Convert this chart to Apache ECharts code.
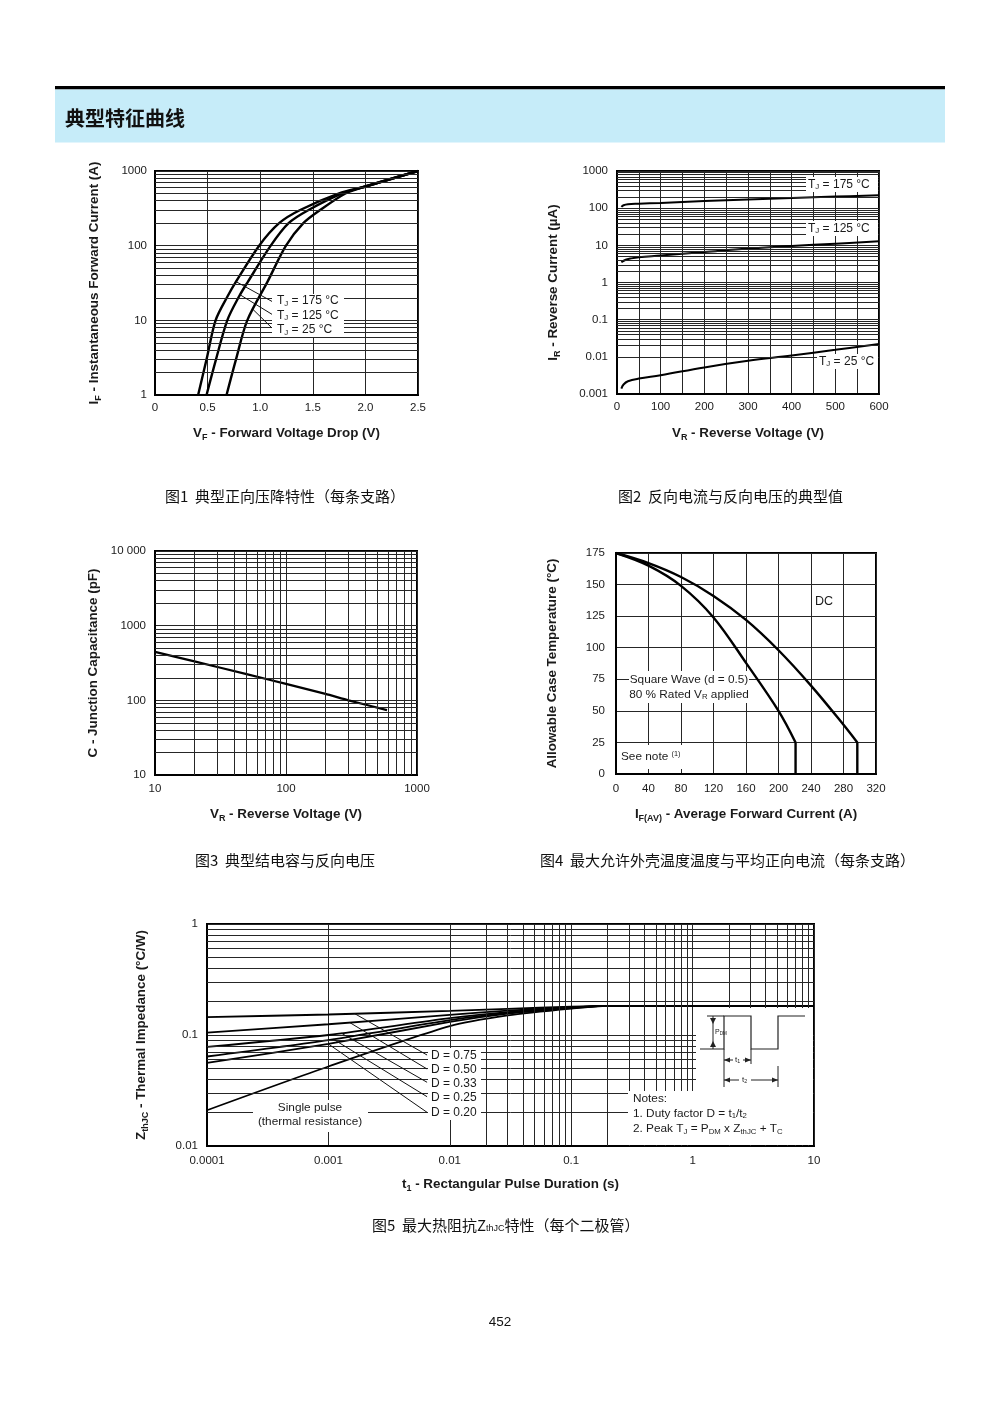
<!DOCTYPE html>
<html><head><meta charset="utf-8">
<script src="https://cdn.jsdelivr.net/npm/echarts@6/dist/echarts.min.js"></script>
<style>html,body{margin:0;padding:0;background:#fff}#c{width:1000px;height:1414px}</style>
</head><body><div id="c"></div>
<script>
// ---------- Fig 1: forward characteristics ----------
const fig1V_175 = [0.41, 0.49, 0.576, 0.69, 0.77, 0.99, 1.18, 1.38, 1.75, 2.0, 2.5];
const fig1I_175 = [1, 3, 10, 21, 33, 100, 200, 300, 500, 620, 1000];
const fig1V_125 = [0.49, 0.58, 0.687, 0.80, 0.884, 1.10, 1.27, 1.46, 1.78, 2.0, 2.5];
const fig1I_125 = [1, 3, 10, 21, 33, 100, 200, 300, 500, 620, 1000];
const fig1V_25  = [0.68, 0.77, 0.877, 1.07, 1.245, 1.41, 1.57, 1.81, 2.0, 2.5];
const fig1I_25  = [1, 3, 10, 33, 100, 200, 300, 500, 620, 1000];
const fig1XTicks = [0, 0.5, 1.0, 1.5, 2.0, 2.5];
// ---------- Fig 2: reverse current ----------
const fig2V_175 = [10, 15, 25, 50, 100, 200, 300, 400, 500, 600];
const fig2I_175 = [108, 120, 128, 132, 138, 155, 172, 188, 205, 222];
const fig2V_125 = [10, 20, 30, 50, 100, 200, 300, 400, 500, 600];
const fig2I_125 = [3.5, 4.1, 4.4, 4.8, 5.3, 6.6, 8.2, 9.6, 11.1, 12.8];
const fig2V_25  = [10, 15, 25, 50, 100, 200, 300, 400, 500, 600];
const fig2I_25  = [0.0014, 0.0018, 0.0022, 0.0026, 0.0032, 0.0052, 0.0078, 0.0108, 0.0154, 0.0223];
// ---------- Fig 3: junction capacitance ----------
const fig3V = [10, 20, 50, 100, 200, 300, 590];
const fig3C = [445, 332, 224, 166, 122, 100, 74];
// ---------- Fig 4: case temperature derating ----------
const fig4I_dc = [0, 40, 80, 120, 160, 200, 240, 280, 297];
const fig4T_dc = [175, 167, 156, 141, 122, 98, 70, 39, 25];
const fig4I_sw = [0, 40, 80, 120, 160, 200, 221];
const fig4T_sw = [175, 165, 149, 124, 88, 50, 25];
const fig4TFloor = 0;
// ---------- Fig 5: transient thermal impedance ----------
const fig5t      = [0.0001, 0.001, 0.01, 0.03, 0.1, 0.2, 1, 10];
const fig5D075   = [0.145, 0.153, 0.165, 0.172, 0.180, 0.183, 0.183, 0.183];
const fig5D050   = [0.105, 0.125, 0.152, 0.166, 0.178, 0.183, 0.183, 0.183];
const fig5D033   = [0.078, 0.100, 0.142, 0.161, 0.177, 0.183, 0.183, 0.183];
const fig5D025   = [0.064, 0.090, 0.136, 0.158, 0.176, 0.183, 0.183, 0.183];
const fig5D020   = [0.056, 0.083, 0.131, 0.156, 0.175, 0.183, 0.183, 0.183];
const fig5Single = [0.021, 0.052, 0.120, 0.150, 0.173, 0.183, 0.183, 0.183];
const fig5Labels = ['D = 0.75', 'D = 0.50', 'D = 0.33', 'D = 0.25', 'D = 0.20'];

const FONT = '"Liberation Sans", Arial, Helvetica, sans-serif';
const CJK = '"Noto Sans CJK SC", "Noto Sans", sans-serif';
const GRIDC = '#262626';
const TXT = '#1a1a1a';
const NAMEFS = 13.4;
const LBLFS = 11.5;

function pairs(xs, ys) { return xs.map((x, i) => [x, ys[i]]); }
function logMinors(n0, n1) {
  const out = [];
  for (let n = n0; n <= n1; n++) for (let k = 2; k <= 9; k++) out.push(+(k * Math.pow(10, n)).toPrecision(6));
  return out;
}
function fmtLog(v) {
  const e = Math.round(Math.log10(v));
  return e >= 0 ? String(Math.pow(10, e)) : Math.pow(10, e).toFixed(-e);
}
function vAtI(vs, is, I) {
  const L = Math.log10(I);
  for (let i = 0; i < is.length - 1; i++) {
    const a = Math.log10(is[i]), b = Math.log10(is[i + 1]);
    if (L >= a && L <= b) return vs[i] + (vs[i + 1] - vs[i]) * (L - a) / (b - a);
  }
  return vs[0];
}
function zAt(ts, zs, t) {
  const L = Math.log10(t);
  for (let i = 0; i < ts.length - 1; i++) {
    const a = Math.log10(ts[i]), b = Math.log10(ts[i + 1]);
    if (L >= a && L <= b) {
      const la = Math.log10(zs[i]), lb = Math.log10(zs[i + 1]);
      return Math.pow(10, la + (lb - la) * (L - a) / (b - a));
    }
  }
  return zs[0];
}

const nameRich = {
  b: { fontFamily: FONT, fontWeight: 'bold', fontSize: NAMEFS, color: TXT },
  s: { fontFamily: FONT, fontWeight: 'bold', fontSize: 9, color: TXT, padding: [8, 0, 0, 0] }
};
const baseLabel = { color: TXT, fontSize: LBLFS, fontFamily: FONT, showMinLabel: true, showMaxLabel: true, hideOverlap: false };
function baseAxis(extra) {
  return Object.assign({
    axisLine: { show: true, onZero: false, lineStyle: { color: '#000', width: 2 } },
    axisTick: { show: false },
    splitLine: { show: true, lineStyle: { color: GRIDC, width: 1 } },
    axisLabel: baseLabel,
    nameLocation: 'middle',
    nameTextStyle: { rich: nameRich }
  }, extra);
}
function lbl(extra) { return Object.assign({}, baseLabel, extra); }
function gridSeries(i, xs, ys) {
  return {
    type: 'line', xAxisIndex: i, yAxisIndex: i, data: [], silent: true, z: 1,
    markLine: {
      silent: true, animation: false, symbol: ['none', 'none'], label: { show: false },
      lineStyle: { color: GRIDC, width: 1, type: 'solid' }, emphasis: { disabled: true },
      data: [...xs.map(v => ({ xAxis: v })), ...ys.map(v => ({ yAxis: v }))]
    }
  };
}
function leaderSeries(i, segs) {
  return {
    type: 'line', xAxisIndex: i, yAxisIndex: i, data: [], silent: true, z: 4,
    markLine: {
      silent: true, animation: false, symbol: ['none', 'none'], label: { show: false },
      lineStyle: { color: '#111', width: 1, type: 'solid' }, emphasis: { disabled: true },
      data: segs.map(s => [{ coord: s[0] }, { coord: s[1] }])
    }
  };
}
function curve(i, data, w, smooth) {
  return {
    type: 'line', xAxisIndex: i, yAxisIndex: i, data: data, symbol: 'none', silent: true, z: 3,
    smooth: smooth === undefined ? 0.3 : smooth,
    lineStyle: { color: '#000', width: w }
  };
}

function txt(x, y, text, o) {
  const fs = (o && o.fontSize) || 12;
  return { type: 'text', z: 102, style: Object.assign({ x: x, y: y, text: text, fill: TXT, fontSize: fs, fontFamily: FONT, align: 'left', verticalAlign: 'middle',
    rich: { s: { fontSize: fs * 0.66, fontFamily: FONT, fill: TXT, padding: [fs * 0.45, 0, 0, 0] }, sup: { fontSize: fs * 0.62, fontFamily: FONT, fill: TXT, padding: [0, 0, fs * 0.5, 0] } } }, o || {}) };
}
function box(x, y, w, h) { return { type: 'rect', z: 100, shape: { x: x, y: y, width: w, height: h }, style: { fill: '#fff' } }; }
function seg(x1, y1, x2, y2, w) { return { type: 'line', z: 101, shape: { x1: x1, y1: y1, x2: x2, y2: y2 }, style: { stroke: '#222', lineWidth: w || 1 } }; }
function tri(pts) { return { type: 'polygon', z: 101, shape: { points: pts }, style: { fill: '#222' } }; }

const fig1EndV = 1.122;
const fig1Leaders = [
  [[vAtI(fig1V_175, fig1I_175, 33), 33], [fig1EndV, 17.6]],
  [[vAtI(fig1V_125, fig1I_125, 22), 22], [fig1EndV, 11.8]],
  [[vAtI(fig1V_25, fig1I_25, 14), 14], [fig1EndV, 7.65]]
];
const fig5Curves = [fig5D075, fig5D050, fig5D033, fig5D025, fig5D020];
const fig5StartT = [1.65e-3, 1.5e-3, 1.28e-3, 1.1e-3, 1.0e-3];
const fig5EndZ = [0.066, 0.0494, 0.0375, 0.0278, 0.0201];
const fig5Leaders = fig5Curves.map((c, k) => [[fig5StartT[k], zAt(fig5t, c, fig5StartT[k])], [6.5e-3, fig5EndZ[k]]]);

const option = {
  animation: false,
  backgroundColor: '#fff',
  grid: [
    { left: 155, top: 171, width: 263, height: 224, show: true, borderColor: '#000', borderWidth: 2 },
    { left: 617, top: 171, width: 262, height: 223, show: true, borderColor: '#000', borderWidth: 2 },
    { left: 155, top: 551, width: 262, height: 224, show: true, borderColor: '#000', borderWidth: 2 },
    { left: 616, top: 553, width: 260, height: 221, show: true, borderColor: '#000', borderWidth: 2 },
    { left: 207, top: 924, width: 607, height: 222, show: true, borderColor: '#000', borderWidth: 2 }
  ],
  xAxis: [
    baseAxis({ gridIndex: 0, type: 'value', min: fig1XTicks[0], max: fig1XTicks[fig1XTicks.length - 1], interval: 0.5,
      axisLabel: lbl({ margin: 7, formatter: v => v === 0 ? '0' : v.toFixed(1) }),
      name: '{b|V}{s|F}{b| - Forward Voltage Drop (V)}', nameGap: 30 }),
    baseAxis({ gridIndex: 1, type: 'value', min: 0, max: 600, interval: 100,
      minorTick: { show: false, splitNumber: 2 }, minorSplitLine: { show: true, lineStyle: { color: GRIDC, width: 1 } },
      axisLabel: lbl({ margin: 7 }),
      name: '{b|V}{s|R}{b| - Reverse Voltage (V)}', nameGap: 31 }),
    baseAxis({ gridIndex: 2, type: 'log', logBase: 10, min: 10, max: 1000, splitNumber: 10,
      axisLabel: lbl({ margin: 8, formatter: fmtLog }),
      name: '{b|V}{s|R}{b| - Reverse Voltage (V)}', nameGap: 31 }),
    baseAxis({ gridIndex: 3, type: 'value', min: 0, max: 320, interval: 40,
      axisLabel: lbl({ margin: 9 }),
      name: '{b|I}{s|F(AV)}{b| - Average Forward Current (A)}', nameGap: 32 }),
    baseAxis({ gridIndex: 4, type: 'log', logBase: 10, min: 0.0001, max: 10, splitNumber: 10,
      axisLabel: lbl({ margin: 9, formatter: fmtLog }),
      name: '{b|t}{s|1}{b| - Rectangular Pulse Duration (s)}', nameGap: 30 })
  ],
  yAxis: [
    baseAxis({ gridIndex: 0, type: 'log', logBase: 10, min: 1, max: 1000, splitNumber: 10,
      axisLabel: lbl({ margin: 8, formatter: fmtLog }),
      name: '{b|I}{s|F}{b| - Instantaneous Forward Current (A)}', nameRotate: 90, nameGap: 52 }),
    baseAxis({ gridIndex: 1, type: 'log', logBase: 10, min: 0.001, max: 1000, splitNumber: 10,
      axisLabel: lbl({ margin: 9, formatter: fmtLog }),
      name: '{b|I}{s|R}{b| - Reverse Current (µA)}', nameRotate: 90, nameGap: 55 }),
    baseAxis({ gridIndex: 2, type: 'log', logBase: 10, min: 10, max: 10000, splitNumber: 10,
      axisLabel: lbl({ margin: 9, formatter: v => (Math.round(v) >= 10000 ? '10 000' : fmtLog(v)) }),
      name: '{b|C - Junction Capacitance (pF)}', nameRotate: 90, nameGap: 55 }),
    baseAxis({ gridIndex: 3, type: 'value', min: 0, max: 175, interval: 25,
      axisLabel: lbl({ margin: 11 }),
      name: '{b|Allowable Case Temperature (°C)}', nameRotate: 90, nameGap: 57 }),
    baseAxis({ gridIndex: 4, type: 'log', logBase: 10, min: 0.01, max: 1, splitNumber: 10,
      axisLabel: lbl({ margin: 9, formatter: fmtLog }),
      name: '{b|Z}{s|thJC}{b| - Thermal Impedance (°C/W)}', nameRotate: 90, nameGap: 57 })
  ],
  series: [
    gridSeries(0, [], logMinors(0, 2)),
    gridSeries(1, [], logMinors(-3, 2)),
    gridSeries(2, logMinors(1, 2), logMinors(1, 3)),
    gridSeries(4, logMinors(-4, 0), logMinors(-2, -1)),
    leaderSeries(0, fig1Leaders),
    leaderSeries(4, fig5Leaders),
    curve(0, pairs(fig1V_175, fig1I_175), 2.4),
    curve(0, pairs(fig1V_125, fig1I_125), 2.4),
    curve(0, pairs(fig1V_25, fig1I_25), 2.4),
    curve(1, pairs(fig2V_175, fig2I_175), 2, 0.4),
    curve(1, pairs(fig2V_125, fig2I_125), 2, 0.4),
    curve(1, pairs(fig2V_25, fig2I_25), 2, 0.4),
    curve(2, pairs(fig3V, fig3C), 2.2, 0.2),
    curve(3, pairs(fig4I_dc, fig4T_dc), 2.4, 0.35),
    curve(3, [[fig4I_dc[fig4I_dc.length - 1], fig4T_dc[fig4T_dc.length - 1]], [fig4I_dc[fig4I_dc.length - 1], fig4TFloor]], 2.4, false),
    curve(3, pairs(fig4I_sw, fig4T_sw), 2.4, 0.35),
    curve(3, [[fig4I_sw[fig4I_sw.length - 1], fig4T_sw[fig4T_sw.length - 1]], [fig4I_sw[fig4I_sw.length - 1], fig4TFloor]], 2.4, false),
    curve(4, pairs(fig5t, fig5D075), 1.8, 0.25),
    curve(4, pairs(fig5t, fig5D050), 1.8, 0.25),
    curve(4, pairs(fig5t, fig5D033), 1.8, 0.25),
    curve(4, pairs(fig5t, fig5D025), 1.8, 0.25),
    curve(4, pairs(fig5t, fig5D020), 1.8, 0.25),
    curve(4, pairs(fig5t, fig5Single), 1.8, 0.25)
  ],
  graphic: [
    { type: 'rect', z: 0, shape: { x: 55, y: 86, width: 890, height: 3.5 }, style: { fill: '#000' } },
    { type: 'rect', z: 0, shape: { x: 55, y: 89.5, width: 890, height: 53 }, style: { fill: '#c6ecf9' } },
    { type: 'text', z: 1, style: { x: 65, y: 118, text: '典型特征曲线', fill: '#111', fontSize: 20, fontWeight: 'bold', fontFamily: CJK, verticalAlign: 'middle' } },
    { type: 'text', z: 1, style: { x: 165, y: 496, text: '图1  典型正向压降特性（每条支路）', fill: '#111', fontSize: 15, fontFamily: CJK, verticalAlign: 'middle' } },
    { type: 'text', z: 1, style: { x: 618, y: 496, text: '图2  反向电流与反向电压的典型值', fill: '#111', fontSize: 15, fontFamily: CJK, verticalAlign: 'middle' } },
    { type: 'text', z: 1, style: { x: 195, y: 860, text: '图3  典型结电容与反向电压', fill: '#111', fontSize: 15, fontFamily: CJK, verticalAlign: 'middle' } },
    { type: 'text', z: 1, style: { x: 540, y: 860, text: '图4  最大允许外壳温度温度与平均正向电流（每条支路）', fill: '#111', fontSize: 15, fontFamily: CJK, verticalAlign: 'middle' } },
    { type: 'text', z: 1, style: { x: 372, y: 1225, text: '图5  最大热阻抗Z{s|thJC}特性（每个二极管）', fill: '#111', fontSize: 15, fontFamily: CJK, verticalAlign: 'middle',
      rich: { s: { fontSize: 9, fontFamily: FONT, fill: '#111', padding: [7, 0, 0, 0] } } } },
    { type: 'text', z: 1, style: { x: 500, y: 1322, text: '452', fill: '#111', fontSize: 13.5, fontFamily: FONT, align: 'center', verticalAlign: 'middle' } },

    box(272, 294, 72, 43),
    txt(277, 301, 'T{s|J} = 175 °C'),
    txt(277, 315.5, 'T{s|J} = 125 °C'),
    txt(277, 330, 'T{s|J} = 25 °C'),
    box(806, 177, 72, 15), txt(808, 184.5, 'T{s|J} = 175 °C'),
    box(806, 221, 72, 15), txt(808, 228.5, 'T{s|J} = 125 °C'),
    box(817, 354, 61, 15), txt(819, 361.5, 'T{s|J} = 25 °C'),
    txt(815, 602, 'DC', { fontSize: 12.5 }),
    box(629, 671, 120, 32),
    txt(689, 679.5, 'Square Wave (d = 0.5)', { align: 'center', fontSize: 11.8 }),
    txt(689, 694.5, '80 % Rated V{s|R} applied', { align: 'center', fontSize: 11.8 }),
    box(618, 745, 74, 24),
    txt(621, 757, 'See note {sup|(1)}', { fontSize: 11.8 }),
    box(428, 1048, 53, 72),
    ...fig5Labels.map((t, k) => txt(431, [1056, 1070, 1084, 1098, 1113][k], t)),
    box(253, 1100, 115, 32),
    txt(310, 1108, 'Single pulse', { align: 'center', fontSize: 11.8 }),
    txt(310, 1122, '(thermal resistance)', { align: 'center', fontSize: 11.8 }),
    box(696, 1008, 117, 84),
    box(628, 1091, 185, 54),
    txt(633, 1099, 'Notes:', { fontSize: 11.8 }),
    txt(633, 1113.5, '1. Duty factor D = t{s|1}/t{s|2}', { fontSize: 11.8 }),
    txt(633, 1129, '2. Peak T{s|J} = P{s|DM} x Z{s|thJC} + T{s|C}', { fontSize: 11.8 }),
    { type: 'polyline', z: 101, shape: { points: [[700, 1049], [724, 1049], [724, 1016], [751, 1016], [751, 1049], [778, 1049], [778, 1016], [805, 1016]] }, style: { stroke: '#222', lineWidth: 1.2, fill: null } },
    seg(707, 1016, 724, 1016),
    seg(713, 1016, 713, 1049),
    tri([[710, 1018], [716, 1018], [713, 1024]]),
    tri([[710, 1047], [716, 1047], [713, 1041]]),
    txt(715, 1032, 'P{s|DM}', { fontSize: 7 }),
    seg(724, 1049, 724, 1087), seg(751, 1049, 751, 1064), seg(778, 1066, 778, 1087),
    seg(724, 1060, 751, 1060),
    tri([[724, 1060], [730, 1057.5], [730, 1062.5]]), tri([[751, 1060], [745, 1057.5], [745, 1062.5]]),
    { type: 'rect', z: 101, shape: { x: 733, y: 1055, width: 10, height: 10 }, style: { fill: '#fff' } },
    txt(735, 1060, 't{s|1}', { fontSize: 8 }),
    seg(724, 1080, 778, 1080),
    tri([[724, 1080], [730, 1077.5], [730, 1082.5]]), tri([[778, 1080], [772, 1077.5], [772, 1082.5]]),
    { type: 'rect', z: 101, shape: { x: 739, y: 1075, width: 12, height: 10 }, style: { fill: '#fff' } },
    txt(742, 1080, 't{s|2}', { fontSize: 8 })
  ]
};

const chart = echarts.init(document.getElementById('c'), null, { renderer: 'canvas' });
chart.setOption(option);
</script></body></html>
